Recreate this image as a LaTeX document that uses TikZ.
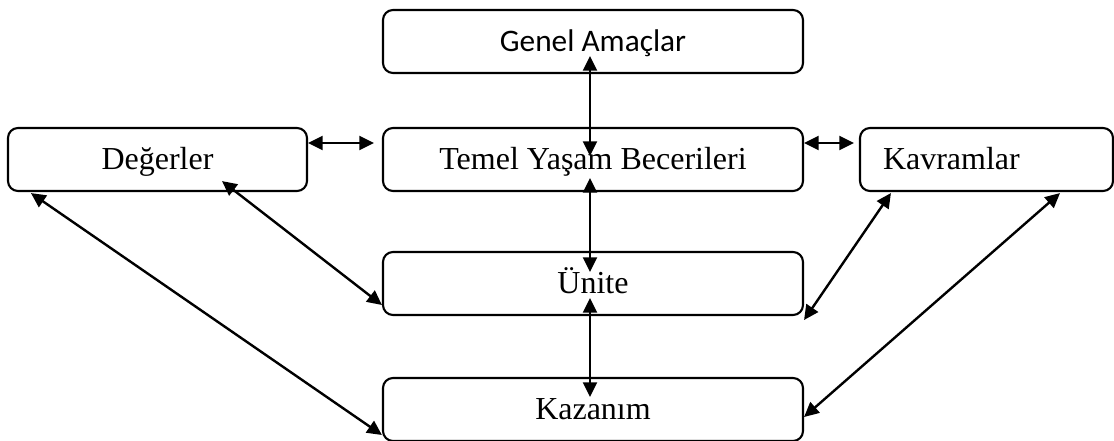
\documentclass[tikz,border=0pt]{standalone}
\usepackage{fontspec}
\setmainfont{Liberation Serif}
\newfontfamily\calibrifont{Carlito}
\usetikzlibrary{arrows.meta}
\begin{document}
\begin{tikzpicture}[x=0.75pt,y=-0.75pt,
  box/.style={draw=black, line width=1.6pt, rounded corners=7.5pt, fill=white,
    minimum width=315pt, minimum height=47.25pt, inner sep=0pt,
    font=\fontsize{24}{28}\selectfont, text height=15.6pt, text depth=0pt},
  link/.style={line width=1.8pt, {Triangle[length=11pt,width=10.5pt]}-{Triangle[length=11pt,width=10.5pt]}}
]
\useasboundingbox (0,0) rectangle (1114,441);
\node[box, font=\calibrifont\fontsize{23.5}{28}\selectfont] (ga) at (593,41.5) {Genel Amaçlar};
\node[box] (tyb) at (593,159.5) {Temel Yaşam Becerileri};
\node[box, minimum width=224.25pt] (deg) at (157.5,159.5) {Değerler};
\node[box, minimum width=189.75pt, text width=155.25pt, align=left, inner xsep=17.25pt] (kav) at (986.5,159.5) {Kavramlar};
\node[box] (uni) at (593,283.5) {Ünite};
\node[box] (kaz) at (593,409.5) {Kazanım};

\draw[link] ([shift={(-3,-18)}]ga.south) -- ([shift={(-3,29)}]tyb.north);
\draw[link] ([shift={(-3,-14)}]tyb.south) -- ([shift={(-3,21)}]uni.north);
\draw[link] ([shift={(-3,-18)}]uni.south) -- ([shift={(-3,20)}]kaz.north);
\draw[link] ([shift={(0,-16.5)}]deg.east) -- ([shift={(-8,-16.5)}]tyb.west);
\draw[link] ([shift={(0,-16.5)}]tyb.east) -- ([shift={(-5,-16.5)}]kav.west);
\draw[link] ([shift={(64.5,-11)}]deg.south) -- ([shift={(0,21.5)}]uni.west);
\draw[link] ([shift={(24,1)}]deg.south west) -- ([shift={(0,25.5)}]kaz.west);
\draw[link] ([shift={(32,1)}]kav.south west) -- ([shift={(0,36.5)}]uni.east);
\draw[link] ([shift={(73.5,1)}]kav.south) -- ([shift={(0,7.5)}]kaz.east);
\end{tikzpicture}
\end{document}
